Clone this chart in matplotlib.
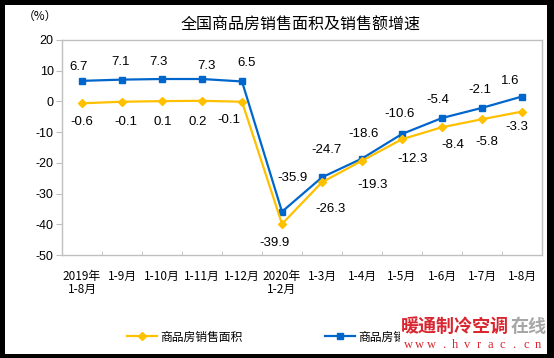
import matplotlib
matplotlib.use('Agg')
import matplotlib.pyplot as plt
from matplotlib.lines import Line2D
from matplotlib.patches import Rectangle

plt.rcParams['font.family'] = ['Liberation Sans', 'Noto Sans CJK SC', 'DejaVu Sans']
plt.rcParams['axes.unicode_minus'] = False

# 数据
months = ['2019年\n1-8月', '1-9月', '1-10月', '1-11月', '1-12月', '2020年\n1-2月',
          '1-3月', '1-4月', '1-5月', '1-6月', '1-7月', '1-8月']
area = [-0.6, -0.1, 0.1, 0.2, -0.1, -39.9, -26.3, -19.3, -12.3, -8.4, -5.8, -3.3]
amount = [6.7, 7.1, 7.3, 7.3, 6.5, -35.9, -24.7, -18.6, -10.6, -5.4, -2.1, 1.6]
name_area = '商品房销售面积'
name_amount = '商品房销售额'

# 数据标签偏移（像素）
off_amount = [(-3, 14), (-1, 18), (-4, 17), (4, 13), (5, 18), (11, 34),
              (4, 27), (2, 25), (-2, 20), (-4, 18), (-2, 18), (-12, 16)]
off_area = [(0, -19), (4, -20), (1, -21), (-4, -21), (-13, -18), (-7, -19),
            (9, -27), (11, -24), (11, -20), (11, -18), (5, -23), (-5, -15)]

c_area = '#FFC000'
c_amount = '#0066CC'

W, H = 554, 358
fig = plt.figure(figsize=(W / 100, H / 100), dpi=100, facecolor='black')
fig.patches.append(Rectangle((5 / W, 4 / H), 542 / W, 349 / H, transform=fig.transFigure,
                             facecolor='white', edgecolor='none', zorder=-10))

ax = fig.add_axes([62 / W, (H - 255) / H, 480 / W, 215 / H])
x = list(range(len(months)))
ax.plot(x, amount, color=c_amount, lw=1.6, marker='s', ms=4.5, zorder=3)
ax.plot(x, area, color=c_area, lw=1.6, marker='D', ms=4.5, zorder=3)

for i, v in enumerate(amount):
    ax.annotate(f'{v:g}', (i, v), xytext=off_amount[i], textcoords='offset pixels',
                ha='center', va='center', fontsize=9.5)
for i, v in enumerate(area):
    ax.annotate(f'{v:g}', (i, v), xytext=off_area[i], textcoords='offset pixels',
                ha='center', va='center', fontsize=9.5)

ax.set_xlim(-0.5, len(months) - 0.5)
ax.set_ylim(-50, 20)
ax.set_yticks(range(-50, 21, 10))
ax.set_yticklabels([str(v) for v in range(-50, 21, 10)], fontsize=9)
ax.set_xticks(x)
ax.set_xticklabels(months, fontsize=8.5, family=['Noto Sans CJK SC', 'DejaVu Sans'],
                   linespacing=1.0)
ax.set_xticks([i + 0.5 for i in x[:-1]], minor=True)
ax.tick_params(axis='x', which='major', length=0, pad=11)
ax.tick_params(axis='x', which='minor', direction='in', length=3, color='#BFBFBF')
ax.tick_params(axis='y', length=4, color='#BFBFBF', pad=2)
for s in ax.spines.values():
    s.set_color('#BFBFBF')
    s.set_linewidth(1.0)

fig.text(301 / W, 1 - 25 / H, '全国商品房销售面积及销售额增速', ha='center', va='center',
         fontsize=11.5, family=['Noto Sans CJK SC', 'DejaVu Sans'])
fig.text(40 / W, 1 - 16 / H, '（%）', ha='center', va='center', fontsize=8.5,
         family=['Noto Sans CJK SC', 'DejaVu Sans'])

handles = [Line2D([], [], color=c_area, lw=1.6, marker='D', ms=4.5),
           Line2D([], [], color=c_amount, lw=1.6, marker='s', ms=4.5)]
fig.legend(handles, [name_area, name_amount], loc='center', ncol=2,
           bbox_to_anchor=(278 / W, 1 - 337 / H), frameon=False,
           prop={'family': 'Noto Sans CJK SC', 'size': 8.5},
           handlelength=2.5, handletextpad=0.3, columnspacing=7)

# 水印
fig.patches.append(Rectangle((400 / W, 5 / H), 147 / W, 35 / H, transform=fig.transFigure,
                             facecolor='white', edgecolor='none', zorder=8))
fig.text(455 / W, 1 - 326 / H, '暖通制冷空调', ha='center', va='center', fontsize=13,
         fontweight='bold', color='#D9252F', family='Noto Sans CJK SC', zorder=9)
fig.text(529 / W, 1 - 326 / H, '在线', ha='center', va='center', fontsize=13,
         fontweight='bold', color='#A6A6A6', family='Noto Sans CJK SC', zorder=9)
for k, ch in enumerate('www.hvrac.cn'):
    fig.text((408 + k * 11.8) / W, 1 - 345 / H, ch, ha='center', va='center', fontsize=9,
             color='#D9252F', family='Liberation Serif', zorder=9)

fig.savefig('out.png', dpi=100, facecolor='black')
